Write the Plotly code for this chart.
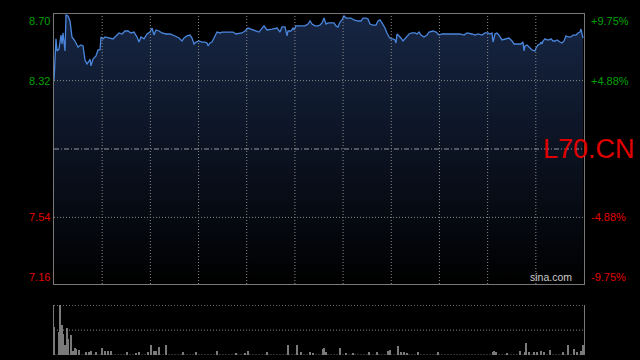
import plotly.graph_objects as go

# ---- data (minute index from open, price) ----
minutes = [0,2,3,5,7,8,9,11,12,14,16,18,21,24,27,29,31,33,35,36,37,39,42,44,46,47,49,51,56,59,
           62,65,68,71,74,77,80,83,85,87,90,93,96,98,100,102,105,108,112,116,119,122,125,128,130,
           133,136,138,140,142,145,148,151,153,154,156,158,160,163,166,168,179,182,188,191,194,197,
           202,205,210,213,218,223,226,228,231,233,234,237,239,240,242,246,251,254,256,258,261,264,
           266,268,270,272,274,277,280,282,284,286,288,290,292,297,300,304,307,309,312,314,316,319,
           322,324,326,328,331,333,335,337,339,341,342,343,345,347,349,352,355,358,361,363,365,367,
           370,373,375,379,382,385,388,396,406,410,413,418,421,424,428,431,434,436,438,439,441,443,
           445,448,451,455,458,460,464,467,469,470,471,473,476,478,481,482,484,486,487,488,489,491,
           493,495,497,499,501,503,506,508,510,512,514,517,519,522,524,526,527,528,529]
prices = [8.318,8.558,8.489,8.50,8.58,8.529,8.592,8.489,8.694,8.689,8.66,8.569,8.546,8.512,8.523,
          8.518,8.438,8.415,8.432,8.443,8.404,8.443,8.461,8.495,8.495,8.569,8.558,8.569,8.563,8.558,
          8.575,8.592,8.586,8.603,8.603,8.592,8.597,8.569,8.54,8.569,8.558,8.586,8.597,8.62,8.58,
          8.609,8.603,8.592,8.586,8.586,8.58,8.569,8.563,8.546,8.563,8.575,8.58,8.563,8.529,8.54,
          8.546,8.54,8.54,8.535,8.518,8.535,8.54,8.563,8.597,8.592,8.597,8.597,8.586,8.592,8.603,
          8.62,8.614,8.603,8.597,8.632,8.609,8.614,8.62,8.597,8.626,8.626,8.575,8.603,8.603,8.62,
          8.609,8.632,8.632,8.632,8.643,8.66,8.643,8.632,8.632,8.637,8.649,8.677,8.643,8.649,8.649,
          8.649,8.632,8.626,8.654,8.666,8.689,8.677,8.677,8.666,8.66,8.66,8.677,8.677,8.671,8.643,
          8.637,8.637,8.66,8.666,8.649,8.62,8.592,8.569,8.558,8.558,8.552,8.535,8.586,8.575,8.563,
          8.546,8.563,8.586,8.592,8.592,8.586,8.597,8.58,8.569,8.58,8.597,8.603,8.597,8.58,8.586,
          8.586,8.586,8.58,8.592,8.586,8.58,8.586,8.58,8.592,8.592,8.586,8.592,8.54,8.586,8.592,
          8.58,8.552,8.558,8.563,8.546,8.529,8.529,8.529,8.54,8.489,8.518,8.523,8.506,8.495,8.489,
          8.506,8.523,8.529,8.54,8.529,8.546,8.558,8.552,8.552,8.558,8.546,8.546,8.552,8.54,8.535,
          8.546,8.575,8.569,8.569,8.58,8.58,8.592,8.597,8.614,8.592,8.563]

vol_minutes = [0,5,6,8,9,11,13,14,17,19,21,22,25,32,35,37,42,48,51,54,57,73,82,85,94,97,100,102,
               105,112,129,142,163,182,191,194,213,234,243,247,256,259,269,270,272,286,292,299,315,
               323,334,336,344,347,350,353,364,384,439,440,442,453,466,471,472,475,480,483,487,490,
               496,509,514,520,523,527,528,529]
volumes = [56,46,100,60,42,20,54,32,40,8,14,12,11,7,6,9,6,14,9,9,9,7,5,7,6,21,9,9,17,21,6,6,9,5,5,
           9,6,20,20,6,7,5,13,15,6,15,5,4,6,6,9,11,18,6,6,5,6,6,7,9,7,4,9,7,25,7,6,7,9,7,11,6,20,
           12,6,9,9,20]

pre_close = 7.93
y_ticks_left = [8.70, 8.32, 7.54, 7.16]
y_labels_left = ["8.70", "8.32", "7.54", "7.16"]
y_labels_right = ["+9.75%", "+4.88%", "-4.88%", "-9.75%"]
price_grid = [8.32, 7.54]
vol_grid = [50, 100]
n_time_div = 11
symbol = "L70.CN"
brand = "sina.com"

GREEN = "#00a000"
RED = "#e00000"
GRID = "#8a8a8a"
BORDER = "#777777"
FONT = "Liberation Sans, Arial, sans-serif"
DOT = "1px,2px"

t_min, t_max = 0, 530
y_min, y_max = 7.16, 8.70
v_min, v_max = 0, 100

fig = go.Figure()

# baseline for the gradient fill
fig.add_trace(go.Scatter(x=[t_min, minutes[-1]], y=[y_min, y_min], mode="lines",
                         line=dict(width=0, color="rgba(0,0,0,0)"), hoverinfo="skip",
                         showlegend=False, xaxis="x", yaxis="y"))
fig.add_trace(go.Scatter(x=minutes, y=prices, mode="lines", fill="tonexty",
                         fillgradient=dict(type="vertical",
                                           colorscale=[[0, "#000000"], [1, "#172644"]],
                                           start=y_min, stop=y_max),
                         line=dict(color="#4a86dc", width=1.3), showlegend=False,
                         xaxis="x", yaxis="y"))

fig.add_trace(go.Bar(x=vol_minutes, y=volumes, width=0.9,
                     marker=dict(color="#7a7a7a", line=dict(width=0)),
                     showlegend=False, xaxis="x2", yaxis="y2"))

shapes = []
# vertical time grid in price panel
for k in range(1, n_time_div):
    tx = t_min + k * (t_max - t_min) / n_time_div
    shapes.append(dict(type="line", xref="x", yref="y", x0=tx, x1=tx, y0=y_min, y1=y_max,
                       layer="above", line=dict(color=GRID, width=1, dash=DOT)))
for gy in price_grid:
    shapes.append(dict(type="line", xref="x", yref="y", x0=t_min, x1=t_max, y0=gy, y1=gy,
                       layer="above", line=dict(color=GRID, width=1, dash=DOT)))
shapes.append(dict(type="line", xref="x", yref="y", x0=t_min, x1=t_max, y0=pre_close, y1=pre_close,
                   layer="above", line=dict(color="#9a9a9a", width=1, dash="5px,2px,1px,2px")))
for gv in vol_grid:
    shapes.append(dict(type="line", xref="x2", yref="y2", x0=t_min, x1=t_max, y0=gv, y1=gv,
                       layer="above", line=dict(color=GRID, width=1, dash=DOT)))
shapes.append(dict(type="line", xref="x2", yref="y2", x0=t_min, x1=t_max, y0=v_min, y1=v_min,
                   layer="below", line=dict(color="#5a5a5a", width=1, dash="2px,1px")))

fig.update_layout(
    width=640, height=360,
    paper_bgcolor="#000000", plot_bgcolor="rgba(0,0,0,0)",
    margin=dict(l=54, r=56, t=14, b=5),
    bargap=0,
    xaxis=dict(domain=[0, 1], range=[t_min, t_max], showticklabels=False, ticks="",
               showgrid=False, zeroline=False,
               showline=True, linecolor=BORDER, linewidth=1, mirror=True, anchor="y"),
    yaxis=dict(domain=[0.2082, 1], range=[y_min, y_max], showticklabels=False, ticks="",
               showgrid=False, zeroline=False, showline=True, linecolor=BORDER, linewidth=1,
               mirror=True, anchor="x"),
    xaxis2=dict(domain=[0, 1], range=[t_min, t_max], showticklabels=False, ticks="",
                showgrid=False, zeroline=False, showline=False, anchor="y2", matches="x"),
    yaxis2=dict(domain=[0, 0.1466], range=[v_min, v_max + 0.5], showticklabels=False, ticks="",
                showgrid=False, zeroline=False, showline=True, linecolor=BORDER, linewidth=1,
                mirror=True, anchor="x2"),
    shapes=shapes,
)

anns = []
anchors = ["top", "middle", "middle", "bottom"]
for v, lab, rlab, ya in zip(y_ticks_left, y_labels_left, y_labels_right, anchors):
    col = GREEN if v > pre_close else RED
    ys = 1 if ya == "top" else (-1 if ya == "bottom" else 0)
    anns.append(dict(x=0, xref="paper", y=v, yref="y", text=lab, showarrow=False,
                     xanchor="right", yanchor=ya, xshift=-2, yshift=ys,
                     font=dict(family=FONT, size=11, color=col)))
    anns.append(dict(x=1, xref="paper", y=v, yref="y", text=rlab, showarrow=False,
                     xanchor="left", yanchor=ya, xshift=5, yshift=ys,
                     font=dict(family=FONT, size=11, color=col)))
anns.append(dict(x=1, xref="paper", y=pre_close, yref="y", text=symbol, showarrow=False,
                 xanchor="right", yanchor="middle", xshift=53,
                 font=dict(family=FONT, size=27, color=RED)))
anns.append(dict(x=1, xref="paper", y=y_min, yref="y", text=brand, showarrow=False,
                 xanchor="right", yanchor="bottom", xshift=-10, yshift=-1,
                 font=dict(family=FONT, size=10.5, color="#cccccc")))
fig.update_layout(annotations=anns)

fig.write_html("out.html")
